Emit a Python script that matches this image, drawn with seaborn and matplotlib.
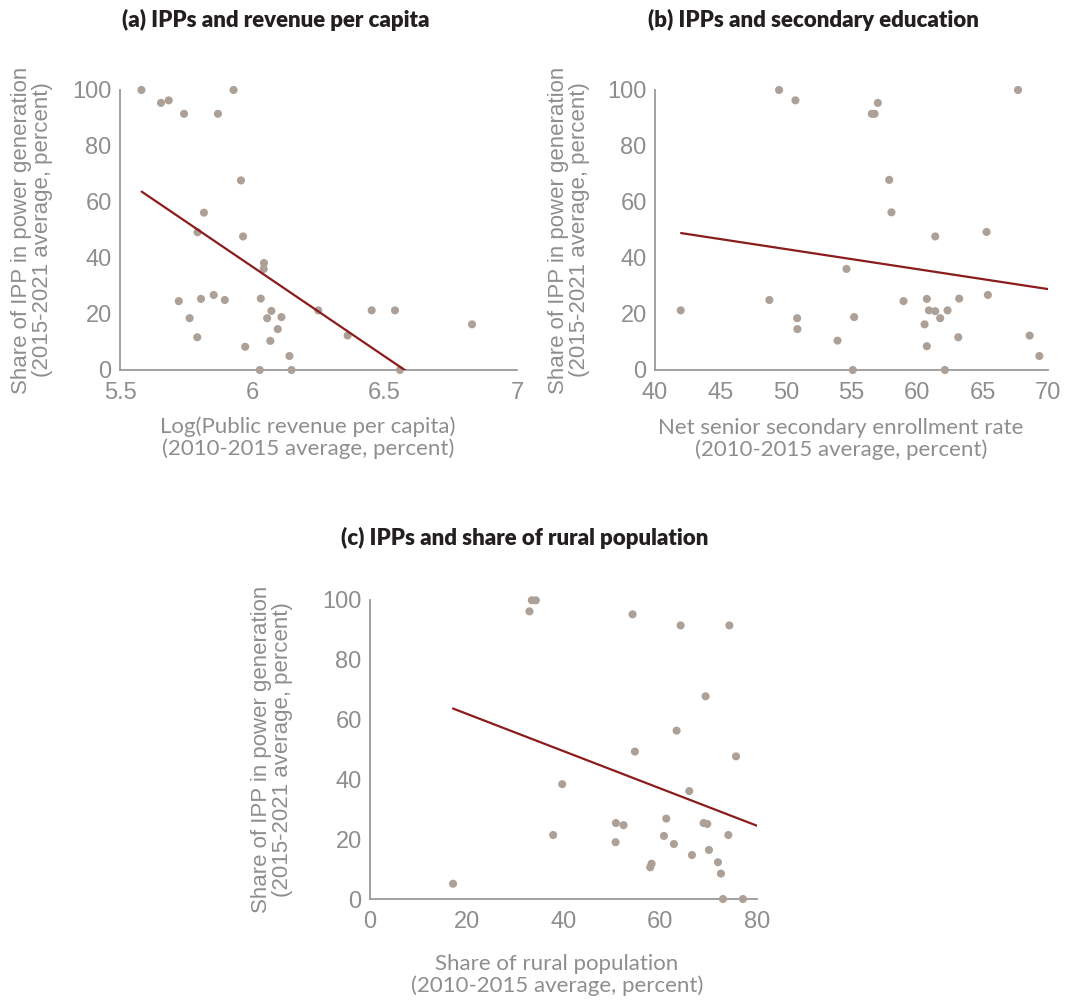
import numpy as np
import pandas as pd
import matplotlib
matplotlib.use("Agg")
import matplotlib.pyplot as plt
import seaborn as sns

# ---- Panel (a): log public revenue per capita vs IPP share ----
rev_x = [5.581, 5.655, 5.684, 5.742, 5.870, 5.929, 5.957, 5.817, 5.793, 5.965,
         6.044, 6.043, 5.722, 5.806, 5.854, 5.896, 6.032, 5.763, 6.072, 6.056,
         6.110, 6.096, 5.792, 6.068, 5.973, 6.140, 6.028, 6.148, 6.249, 6.360,
         6.451, 6.539, 6.558, 6.830]
rev_y = [100.0, 95.4, 96.3, 91.5, 91.5, 100.0, 67.7, 56.2, 49.2, 47.7,
         38.2, 36.1, 24.6, 25.4, 26.8, 25.0, 25.5, 18.5, 21.1, 18.5,
         18.9, 14.6, 11.7, 10.4, 8.3, 5.0, 0.0, 0.0, 21.3, 12.3,
         21.3, 21.3, 0.0, 16.3]
fit_a_x = [5.582, 7.0]
fit_a_y = [63.7, -27.2]

# ---- Panel (b): net senior secondary enrollment vs IPP share ----
edu_x = [41.96, 48.73, 49.47, 50.72, 50.85, 50.87, 53.93, 54.62, 55.10, 55.20,
         56.55, 56.76, 57.01, 57.88, 58.05, 58.97, 60.58, 60.75, 60.75, 60.91,
         61.39, 61.39, 61.77, 62.13, 62.33, 63.15, 63.22, 65.31, 65.41, 67.71,
         68.60, 69.34]
edu_y = [21.3, 25.0, 100.0, 96.3, 18.5, 14.6, 10.5, 36.1, 0.0, 18.9,
         91.5, 91.5, 95.4, 67.9, 56.3, 24.6, 16.3, 25.4, 8.5, 21.3,
         47.7, 21.0, 18.5, 0.0, 21.3, 11.7, 25.5, 49.3, 26.8, 100.0,
         12.3, 5.0]
fit_b_x = [41.99, 70.0]
fit_b_y = [48.9, 28.9]

# ---- Panel (c): share of rural population vs IPP share ----
rural_x = [17.17, 32.97, 33.45, 34.28, 37.86, 39.72, 50.83, 50.76, 52.41, 54.28,
           54.76, 57.93, 58.21, 60.76, 61.24, 62.83, 63.38, 64.21, 66.00, 66.55,
           68.97, 69.72, 69.38, 70.07, 71.93, 72.55, 72.97, 74.07, 74.28, 75.66,
           77.10]
rural_y = [5.1, 96.2, 99.9, 99.9, 21.4, 38.4, 25.4, 19.0, 24.7, 95.2,
           49.3, 10.6, 11.8, 21.1, 26.9, 18.4, 56.3, 91.5, 36.1, 14.7,
           25.4, 25.1, 67.8, 16.4, 12.3, 8.5, 0.0, 21.4, 91.5, 47.7,
           0.0]
fit_c_x = [17.17, 80.0]
fit_c_y = [63.7, 24.5]

titles = ["(a) IPPs and revenue per capita",
          "(b) IPPs and secondary education",
          "(c) IPPs and share of rural population"]
xlabels = ["Log(Public revenue per capita)\n(2010-2015 average, percent)",
           "Net senior secondary enrollment rate\n(2010-2015 average, percent)",
           "Share of rural population\n(2010-2015 average, percent)"]
ylabel = "Share of IPP in power generation\n(2015-2021 average, percent)"
xticks_a = [5.5, 6, 6.5, 7]
xticklabels_a = ["5.5", "6", "6.5", "7"]
xticks_b = [40, 45, 50, 55, 60, 65, 70]
xticks_c = [0, 20, 40, 60, 80]
yticks = [0, 20, 40, 60, 80, 100]

POINT = "#ada096"
LINE = "#8c1c1c"
GREY = "#8e8e8e"
AXIS = "#9a9a9a"
TITLE = "#231f20"

sns.set_style("white")
plt.rcParams["font.family"] = ["Liberation Sans", "DejaVu Sans"]

W, H = 1069, 1001
fig = plt.figure(figsize=(W / 100, H / 100), dpi=100)


def px_axes(left, right, top, bottom):
    return fig.add_axes([left / W, 1 - bottom / H, (right - left) / W, (bottom - top) / H])


# axes box in pixels, plus label anchor offsets (pixels from the axes box)
boxes = [(120, 517, 90, 370), (655, 1048, 90, 370), (370, 757, 600, 899)]
ylabel_dx = [-67, -65, -77]       # right edge of the y-label block
xlabel_cx = [308, 841, 557]       # centre of the x-label block
xlabel_top = [416, 418, 954]      # top of the x-label block

data = [
    (rev_x, rev_y, fit_a_x, fit_a_y, (5.5, 7), xticks_a, xticklabels_a),
    (edu_x, edu_y, fit_b_x, fit_b_y, (40, 70), xticks_b, [str(t) for t in xticks_b]),
    (rural_x, rural_y, fit_c_x, fit_c_y, (0, 80), xticks_c, [str(t) for t in xticks_c]),
]

for i, (x, y, fx, fy, xlim, xt, xtl) in enumerate(data):
    left, right, top, bottom = boxes[i]
    ax = px_axes(left, right, top, bottom)
    aw, ah = right - left, bottom - top
    pts = pd.DataFrame({"x": x, "y": y})
    fit = pd.DataFrame({"x": fx, "y": fy})
    sns.scatterplot(data=pts, x="x", y="y", ax=ax, color=POINT, s=34,
                    edgecolor="none", clip_on=False, zorder=3)
    sns.lineplot(data=fit, x="x", y="y", ax=ax, color=LINE, linewidth=1.6,
                 zorder=4)
    ax.set_xlim(*xlim)
    ax.set_ylim(0, 100)
    ax.set_xticks(xt)
    ax.set_xticklabels(xtl)
    ax.set_yticks(yticks)
    ax.set_yticklabels([str(t) for t in yticks])
    sns.despine(ax=ax)
    for s in ("left", "bottom"):
        ax.spines[s].set_color(AXIS)
        ax.spines[s].set_linewidth(1.3)
    ax.tick_params(axis="both", direction="in", length=5, width=1.1,
                   color=AXIS, labelcolor=GREY, labelsize=17)
    ax.tick_params(axis="x", pad=9)
    ax.tick_params(axis="y", pad=6)
    ax.set_xlabel(xlabels[i], fontsize=16, color=GREY, family="Lato",
                  linespacing=1.1)
    ax.xaxis.set_label_coords((xlabel_cx[i] - left) / aw,
                              -(xlabel_top[i] - bottom) / ah)
    ax.set_ylabel(ylabel, fontsize=16, color=GREY, linespacing=1.0)
    ax.yaxis.set_label_coords(ylabel_dx[i] / aw, 0.5)

fig.text(276 / W, 1 - 20 / H, titles[0], ha="center", va="center",
         fontsize=16, fontweight="heavy", family="Lato", color=TITLE)
fig.text(813 / W, 1 - 20 / H, titles[1], ha="center", va="center",
         fontsize=16, fontweight="heavy", family="Lato", color=TITLE)
fig.text(525 / W, 1 - 538 / H, titles[2], ha="center", va="center",
         fontsize=16, fontweight="heavy", family="Lato", color=TITLE)

fig.savefig("out.png", dpi=100, facecolor="white")
